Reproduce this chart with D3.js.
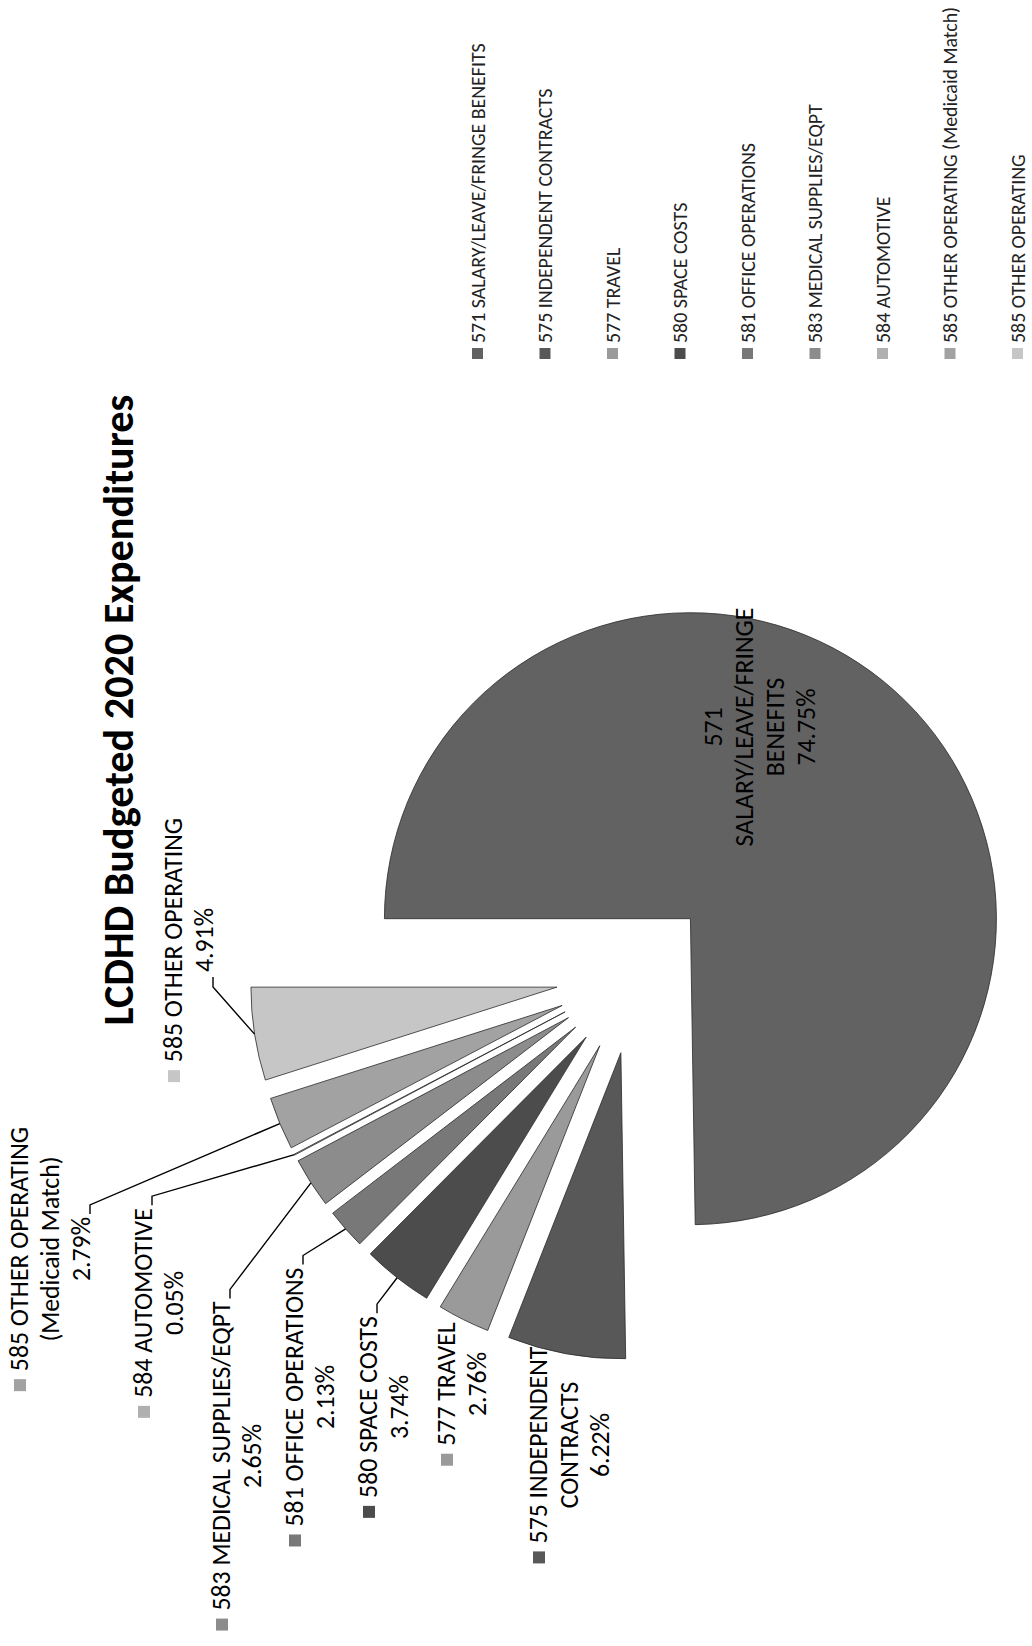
<!DOCTYPE html>
<html>
<head>
<meta charset="utf-8">
<script src="https://cdn.jsdelivr.net/npm/d3@7/dist/d3.min.js"></script>
<style>
  body { margin: 0; background: #fff; }
  svg { display: block; }
</style>
</head>
<body>
<div id="chart"></div>
<script>
// chart values
var categories = [
    "571 SALARY/LEAVE/FRINGE BENEFITS",
    "575 INDEPENDENT CONTRACTS",
    "577 TRAVEL",
    "580 SPACE COSTS",
    "581 OFFICE OPERATIONS",
    "583 MEDICAL SUPPLIES/EQPT",
    "584 AUTOMOTIVE",
    "585 OTHER OPERATING (Medicaid Match)",
    "585 OTHER OPERATING"
];
var shares = [74.75, 6.22, 2.76, 3.74, 2.13, 2.65, 0.05, 2.79, 4.91];
// how each data label is broken into lines (percent is added below them)
var labelLines = [
    ["571", "SALARY/LEAVE/FRINGE", "BENEFITS"],
    ["575 INDEPENDENT", "CONTRACTS"],
    ["577 TRAVEL"],
    ["580 SPACE COSTS"],
    ["581 OFFICE OPERATIONS"],
    ["583 MEDICAL SUPPLIES/EQPT"],
    ["584 AUTOMOTIVE"],
    ["585 OTHER OPERATING", "(Medicaid Match)"],
    ["585 OTHER OPERATING"]
];
var title = "LCDHD Budgeted 2020 Expenditures";

// styles / layout (chart drawn in its own landscape frame, then turned)
var fills = ["#626262", "#585858", "#9a9a9a", "#4c4c4c", "#787878", "#8c8c8c", "#b0b0b0", "#a2a2a2", "#c6c6c6"];
var W = 1032, H = 1646;             // page
var center = [671, 635];            // pie centre, landscape frame
var radius = 306;
var explode = 79;
var font = "Carlito, Calibri, Lato, 'Open Sans', sans-serif";
// data label anchor: [centre x, first baseline y]
var labelAt = [[919, 722], [201, 547], [262, 455], [239, 377], [249, 303], [190, 230], [343, 152], [397, 28], [706, 182]];
var leaderFrom = [null, null, null, 0, 0, 0, 0, 2, 1];   // which label line the leader leaves from
var lineGap = 31;

var svg = d3.select("#chart").append("svg")
    .attr("width", W)
    .attr("height", H);

// the printed chart is turned a quarter turn counter-clockwise on the page
var g = svg.append("g")
    .attr("transform", "translate(0," + H + ") rotate(-90)");

function fitSize(sample, target, weight) {
    var t = g.append("text")
        .attr("font-family", font)
        .attr("font-weight", weight || "normal")
        .attr("font-size", 20)
        .text(sample);
    var w = t.node().getComputedTextLength();
    t.remove();
    return 20 * target / w;
}

var titleSize = fitSize(title, 631, "bold");
var labelSize = fitSize("SALARY/LEAVE/FRINGE", 239);
var legendSize = fitSize(categories[0], 300);

// title
g.append("text")
    .attr("x", 936)
    .attr("y", 133)
    .attr("text-anchor", "middle")
    .attr("font-family", font)
    .attr("font-weight", "bold")
    .attr("font-size", titleSize)
    .attr("fill", "#000")
    .text(title);

// pie
var pie = d3.pie().sort(null).value(function(d) { return d; });
var arcs = pie(shares);
var arc = d3.arc().innerRadius(0).outerRadius(radius);

function mid(a) { return (a.startAngle + a.endAngle) / 2; }
function polar(ang, r) { return [Math.sin(ang) * r, -Math.cos(ang) * r]; }

var pg = g.append("g")
    .attr("transform", "translate(" + center[0] + "," + center[1] + ")");

pg.selectAll("path.slice")
    .data(arcs)
    .enter()
    .append("path")
        .attr("class", "slice")
        .attr("transform", function(d) {
            var o = polar(mid(d), explode);
            return "translate(" + o[0] + "," + o[1] + ")";
        })
        .attr("d", arc)
        .attr("fill", function(d, i) { return fills[i]; })
        .attr("stroke", "#2a2a2a")
        .attr("stroke-width", 0.8);

// data labels
var fmt = d3.format(".2f");
arcs.forEach(function(d, i) {
    var lines = labelLines[i].concat([fmt(shares[i]) + "%"]);
    var cx = labelAt[i][0], y0 = labelAt[i][1];
    var lg = g.append("g");
    var widths = [];
    lines.forEach(function(s, k) {
        var t = lg.append("text")
            .attr("x", cx)
            .attr("y", y0 + k * lineGap)
            .attr("text-anchor", "middle")
            .attr("font-family", font)
            .attr("font-size", labelSize)
            .attr("fill", "#000")
            .text(s);
        widths.push(t.node().getComputedTextLength());
    });

    if (i > 0) {
        // legend key in front of the first line
        var ks = 12;
        lg.append("rect")
            .attr("x", cx - widths[0] / 2 - 8 - ks)
            .attr("y", y0 - 14)
            .attr("width", ks)
            .attr("height", ks)
            .attr("fill", fills[i]);
    }

    if (leaderFrom[i] !== null) {
        var k = leaderFrom[i];
        var tip = polar(mid(d), explode + radius);
        var px = center[0] + tip[0], py = center[1] + tip[1];
        var by = y0 + k * lineGap;
        var pts;
        if (px > cx) {
            var ex = cx + widths[k] / 2 + 3;
            pts = [[ex, by], [ex + 9, by], [px, py]];
        } else {
            var sx = cx - widths[k] / 2 - 5;
            pts = [[sx, by], [sx - 10, by], [px, py]];
        }
        g.append("path")
            .attr("d", d3.line()(pts))
            .attr("fill", "none")
            .attr("stroke", "#000")
            .attr("stroke-width", 1.4);
    }
});

// legend
var ly = d3.scalePoint()
    .domain(categories)
    .range([478, 1018]);

var leg = g.append("g").attr("class", "legend");
var items = leg.selectAll("g")
    .data(categories)
    .enter()
    .append("g")
        .attr("transform", function(d) { return "translate(1287," + ly(d) + ")"; });

items.append("rect")
    .attr("x", 0)
    .attr("y", -6)
    .attr("width", 11)
    .attr("height", 11)
    .attr("fill", function(d, i) { return fills[i]; });

items.append("text")
    .attr("x", 16)
    .attr("y", 6.5)
    .attr("font-family", font)
    .attr("font-size", legendSize)
    .attr("fill", "#222")
    .text(function(d) { return d; });
</script>
</body>
</html>
